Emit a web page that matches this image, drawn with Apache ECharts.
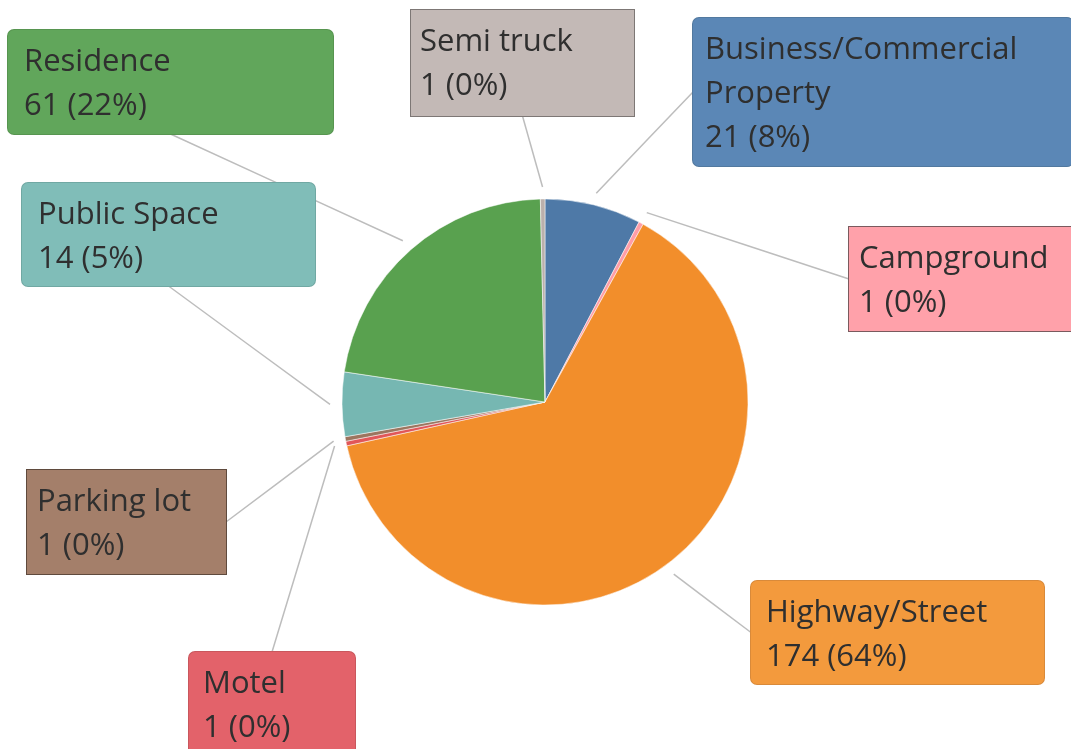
<!DOCTYPE html>
<html>
<head>
<meta charset="utf-8">
<title>Pie</title>
<script src="https://cdn.jsdelivr.net/npm/echarts@6/dist/echarts.min.js"></script>
<style>
html, body { margin: 0; padding: 0; background: #fff; }
#main { width: 1071px; height: 749px; }
</style>
</head>
<body>
<div id="main"></div>
<script>
// data, clockwise from 12 o'clock
var categories = ['Business/Commercial Property', 'Campground', 'Highway/Street', 'Motel', 'Parking lot', 'Public Space', 'Residence', 'Semi truck'];
var counts = [21, 1, 174, 1, 1, 14, 61, 1];

// slice colours and label box look
var sliceColors = ['#4e79a7', '#ff9da7', '#f28e2b', '#e15759', '#9c755f', '#76b7b2', '#59a14f', '#bab0ac'];
var boxFills = ['#5b87b6', '#ffa1aa', '#f39a3d', '#e3626a', '#a47f6a', '#80bdb8', '#61a65b', '#c3b9b6'];
var boxBorders = ['#52799f', '#7a5a5e', '#d98a3a', '#c9575d', '#5f4a3d', '#70a8a3', '#579550', '#7d7775'];
var boxRadius = [6, 0, 6, 6, 0, 6, 6, 0];
// label box: left, top, width, height (outer)
var boxes = [
	[693, 18, 380, 148],
	[849, 227, 225, 104],
	[751, 581, 293, 103],
	[189, 652, 166, 110],
	[27, 470, 199, 104],
	[22, 183, 293, 103],
	[8, 30, 325, 104],
	[411, 10, 223, 106]
];
var boxPadLeft = [12, 10, 15, 14, 10, 16, 16, 9];
// which side of the box the guide line goes to
var lineSide = ['left', 'left', 'left', 'top', 'right', 'bottom', 'bottom', 'bottom'];

var total = 0;
for (var i = 0; i < counts.length; i++) total += counts[i];

var pieData = [];
for (var i = 0; i < categories.length; i++) {
	var b = boxes[i];
	pieData.push({
		name: categories[i],
		value: counts[i],
		itemStyle: { color: sliceColors[i] },
		label: {
			backgroundColor: boxFills[i],
			borderColor: boxBorders[i],
			borderWidth: 1,
			borderRadius: boxRadius[i],
			padding: [10, 8, 6, boxPadLeft[i]],
			width: b[2] - boxPadLeft[i] - 8,
			height: b[3] - 16
		}
	});
}

function sidePoint(b, side) {
	if (side == 'left') return [b[0], b[1] + b[3] / 2];
	if (side == 'right') return [b[0] + b[2], b[1] + b[3] / 2];
	if (side == 'top') return [b[0] + b[2] / 2, b[1]];
	return [b[0] + b[2] / 2, b[1] + b[3]];
}

var myChart = echarts.init(document.getElementById('main'));
var option = {
	backgroundColor: '#fff',
	animation: false,
	series: [{
		type: 'pie',
		center: [545, 402],
		radius: 203,
		startAngle: 90,
		clockwise: true,
		avoidLabelOverlap: false,
		itemStyle: { borderColor: '#fff', borderWidth: 0.5 },
		label: {
			show: true,
			position: 'outside',
			fontFamily: 'Open Sans',
			fontSize: 31,
			lineHeight: 44,
			color: '#2f2f2f',
			overflow: 'break',
			formatter: function (p) {
				var pct = Math.round(p.value / total * 100);
				return p.name + '\n' + p.value + ' (' + pct + '%)';
			}
		},
		labelLine: {
			show: true,
			length: 12,
			length2: 0,
			lineStyle: { color: '#bdbdbd', width: 1.5 }
		},
		labelLayout: function (params) {
			var i = params.dataIndex;
			var b = boxes[i];
			var end = sidePoint(b, lineSide[i]);
			var res = { x: b[0], y: b[1], align: 'left', verticalAlign: 'top' };
			var pts = params.labelLinePoints;
			if (pts && pts.length > 1) {
				var dx = pts[1][0] - pts[0][0], dy = pts[1][1] - pts[0][1];
				var len = Math.sqrt(dx * dx + dy * dy) || 1;
				var start = [pts[0][0] + dx / len * 12, pts[0][1] + dy / len * 12];
				var mid = [(start[0] + end[0]) / 2, (start[1] + end[1]) / 2];
				res.labelLinePoints = [start, mid, end];
			}
			return res;
		},
		data: pieData
	}]
};
myChart.setOption(option);

window.onresize = myChart.resize;
</script>
</body>
</html>
